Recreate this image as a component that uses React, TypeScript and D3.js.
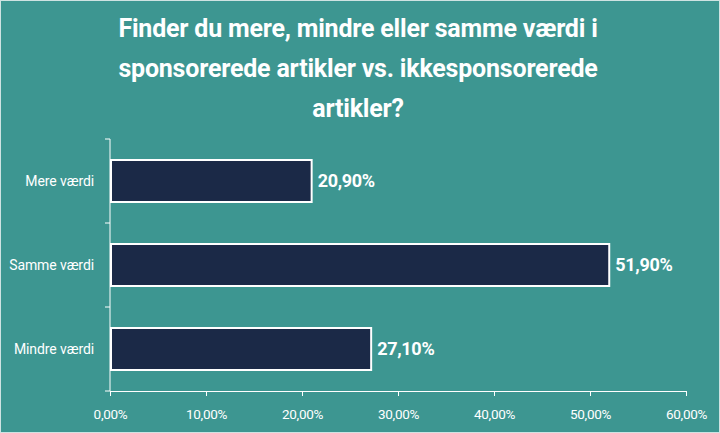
import React, { useEffect, useRef } from 'react';
import * as d3 from 'd3';

const categories = ['Mere værdi', 'Samme værdi', 'Mindre værdi'];
const values = [20.9, 51.9, 27.1];
const xTicks = [0, 10, 20, 30, 40, 50, 60];
const titleLines = [
  'Finder du mere, mindre eller samme værdi i',
  'sponsorerede artikler vs. ikkesponsorerede',
  'artikler?'
];

const fmt = (v: number) => v.toFixed(2).replace('.', ',') + '%';

const App: React.FC = () => {
  const svgRef = useRef<SVGSVGElement>(null);
  const width = 720;
  const height = 433;

  useEffect(() => {
    if (!svgRef.current) return;
    const svg = d3.select(svgRef.current);
    svg.selectAll('*').remove();

    // Background
    svg.append('rect')
      .attr('x', 0.5).attr('y', 0.5)
      .attr('width', width - 1).attr('height', height - 1)
      .attr('fill', '#3d9691')
      .attr('stroke', '#cfe3e2')
      .attr('stroke-width', 1);

    // Title
    svg.append('g')
      .selectAll('text')
      .data(titleLines)
      .join('text')
      .attr('x', 358)
      .attr('y', (_, i) => 37 + i * 40)
      .attr('text-anchor', 'middle')
      .attr('fill', '#fff')
      .style('font-family', 'Roboto, sans-serif')
      .style('font-weight', 700)
      .style('font-size', '25px')
      .style('letter-spacing', '-0.2px')
      .text(d => d);

    const x = d3.scaleLinear().domain([0, 60]).range([110, 686]);
    const y = d3.scaleBand<string>()
      .domain(categories)
      .range([139, 391])
      .paddingInner(0.5)
      .paddingOuter(0.25);

    // Y axis line and ticks (band boundaries)
    svg.append('line')
      .attr('x1', 110).attr('x2', 110)
      .attr('y1', 139).attr('y2', 391)
      .attr('stroke', '#fff').attr('stroke-width', 1);

    const step = y.step();
    const bounds = [139, ...categories.slice(1).map(c => (y(c) as number) - step * y.paddingInner() / 2), 391];
    svg.append('g')
      .selectAll('line')
      .data(bounds)
      .join('line')
      .attr('x1', 105).attr('x2', 110)
      .attr('y1', d => d).attr('y2', d => d)
      .attr('stroke', '#fff');

    // X axis
    const xAxis = svg.append('g')
      .attr('transform', 'translate(0,391)')
      .call(d3.axisBottom(x).tickValues(xTicks).tickSize(6).tickSizeOuter(0).tickFormat(d => fmt(d as number)));
    xAxis.select('.domain').attr('stroke', '#fff');
    xAxis.selectAll('.tick line').attr('stroke', '#fff').attr('y1', 0).attr('y2', 5);
    xAxis.selectAll('.tick text')
      .attr('fill', '#fff')
      .attr('y', 18)
      .style('font-family', 'Roboto, sans-serif')
      .style('font-size', '13.5px')
      .style('letter-spacing', '-0.3px');

    // Category labels
    svg.append('g')
      .selectAll('text')
      .data(categories)
      .join('text')
      .attr('x', 94)
      .attr('y', d => (y(d) as number) + y.bandwidth() / 2)
      .attr('dy', '0.35em')
      .attr('text-anchor', 'end')
      .attr('fill', '#fff')
      .style('font-family', 'Roboto, sans-serif')
      .style('font-size', '14px')
      .style('letter-spacing', '-0.1px')
      .text(d => d);

    // Bars
    svg.append('g')
      .selectAll('rect')
      .data(values)
      .join('rect')
      .attr('x', x(0) + 1)
      .attr('y', (_, i) => y(categories[i]) as number)
      .attr('width', d => x(d) - x(0))
      .attr('height', y.bandwidth())
      .attr('fill', '#1b2947')
      .attr('stroke', '#fff')
      .attr('stroke-width', 2);

    // Value labels
    svg.append('g')
      .selectAll('text')
      .data(values)
      .join('text')
      .attr('x', d => x(d) + 7)
      .attr('y', (_, i) => (y(categories[i]) as number) + y.bandwidth() / 2)
      .attr('dy', '0.35em')
      .attr('fill', '#fff')
      .style('font-family', 'Roboto, sans-serif')
      .style('font-weight', 700)
      .style('font-size', '18px')
      .style('letter-spacing', '-0.3px')
      .text(d => fmt(d));
  }, []);

  return (
    <svg
      ref={svgRef}
      width={width}
      height={height}
      style={{ position: 'absolute', left: 0, top: 0, display: 'block' }}
    />
  );
};

export default App;
